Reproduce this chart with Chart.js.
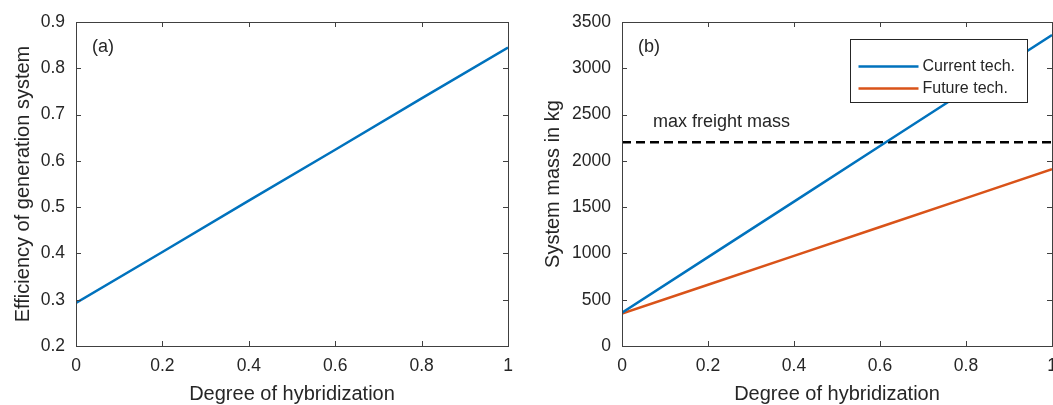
<!DOCTYPE html>
<html>
<head>
    <title>Hybridization</title>
    <script src="https://cdn.jsdelivr.net/npm/chart.js"></script>
    <style>
        html, body {
            margin: 0;
            padding: 0;
            background: #fff;
            overflow: hidden;
        }
        .panel {
            position: absolute;
            top: 0;
            height: 405px;
        }
        #left { left: 0; width: 526px; }
        #right { left: 526px; width: 545px; }
    </style>
</head>
<body>
    <div class="panel" id="left"><canvas id="effChart"></canvas></div>
    <div class="panel" id="right"><canvas id="massChart"></canvas></div>

    <script>
        // data
        const hybridization = [0, 0.2, 0.4, 0.6, 0.8, 1];
        const efficiency = [0.293, 0.403, 0.514, 0.624, 0.735, 0.845];
        const massCurrent = [360, 960, 1560, 2160, 2760, 3360];
        const massFuture = [350, 662, 974, 1286, 1598, 1910];
        const freightX = [0, 1];
        const freightMass = [2200, 2200];

        const xTicks = [0, 0.2, 0.4, 0.6, 0.8, 1];
        const effTicks = [0.2, 0.3, 0.4, 0.5, 0.6, 0.7, 0.8, 0.9];
        const massTicks = [0, 500, 1000, 1500, 2000, 2500, 3000, 3500];

        const seriesNames = ['Current tech.', 'Future tech.'];
        const FONT = 'Arial, "Liberation Sans", Helvetica, sans-serif';
        const TXT = '#262626';
        const BLUE = '#0072BD';
        const ORANGE = '#D95319';

        Chart.defaults.font.family = FONT;
        Chart.defaults.color = TXT;

        function toPoints(xs, ys) {
            return xs.map((x, i) => ({ x: x, y: ys[i] }));
        }

        function useTicks(list) {
            return scale => { scale.ticks = list.map(v => ({ value: v })); };
        }

        // MATLAB style box with inward ticks, drawn on top
        const boxPlugin = {
            id: 'box',
            afterDraw(chart) {
                const { ctx, chartArea: a, scales } = chart;
                const len = 5;
                ctx.save();
                ctx.strokeStyle = '#404040';
                ctx.lineWidth = 1;
                ctx.strokeRect(Math.round(a.left) + 0.5, Math.round(a.top) + 0.5,
                    Math.round(a.right - a.left), Math.round(a.bottom - a.top));
                ctx.beginPath();
                scales.x.ticks.forEach(t => {
                    const px = Math.round(scales.x.getPixelForValue(t.value)) + 0.5;
                    ctx.moveTo(px, a.bottom); ctx.lineTo(px, a.bottom - len);
                    ctx.moveTo(px, a.top); ctx.lineTo(px, a.top + len);
                });
                scales.y.ticks.forEach(t => {
                    const py = Math.round(scales.y.getPixelForValue(t.value)) + 0.5;
                    ctx.moveTo(a.left, py); ctx.lineTo(a.left + len, py);
                    ctx.moveTo(a.right, py); ctx.lineTo(a.right - len, py);
                });
                ctx.stroke();

                // panel labels and notes, placed in data units
                const notes = chart.options.plugins.box.notes || [];
                ctx.fillStyle = TXT;
                ctx.textBaseline = 'middle';
                ctx.textAlign = 'left';
                notes.forEach(n => {
                    ctx.font = n.size + 'px ' + FONT;
                    ctx.fillText(n.text, scales.x.getPixelForValue(n.x), scales.y.getPixelForValue(n.y));
                });

                // legend box
                const lg = chart.options.plugins.box.legend;
                if (lg) {
                    const w = 177, h = 63;
                    const bx = Math.round(a.right - 25 - w) + 0.5;
                    const by = Math.round(a.top + 17) + 0.5;
                    ctx.fillStyle = '#fff';
                    ctx.fillRect(bx, by, w, h);
                    ctx.strokeStyle = '#262626';
                    ctx.strokeRect(bx, by, w, h);
                    ctx.font = '16px ' + FONT;
                    lg.forEach((idx, row) => {
                        const ds = chart.data.datasets[idx];
                        const y = by + 27 + row * 22;
                        ctx.strokeStyle = ds.borderColor;
                        ctx.lineWidth = 2.5;
                        ctx.beginPath();
                        ctx.moveTo(bx + 8, y); ctx.lineTo(bx + 68, y);
                        ctx.stroke();
                        ctx.fillStyle = TXT;
                        ctx.fillText(ds.label, bx + 72, y);
                    });
                }
                ctx.restore();
            }
        };

        function axes(yMin, yMax, yList, yTitle, yWidth, yTitlePad) {
            const tickFont = { size: 17.5 };
            return {
                x: {
                    type: 'linear',
                    min: 0,
                    max: 1,
                    afterBuildTicks: useTicks(xTicks),
                    afterFit: s => { s.height = 59; },
                    grid: { display: false, drawTicks: false },
                    border: { display: false },
                    ticks: { font: tickFont, color: TXT, padding: 10, maxRotation: 0, autoSkip: false,
                        callback: v => String(v) },
                    title: { display: true, text: 'Degree of hybridization', color: TXT,
                        font: { size: 20, lineHeight: 1 }, padding: { top: 0, bottom: 1 } }
                },
                y: {
                    type: 'linear',
                    min: yMin,
                    max: yMax,
                    afterBuildTicks: useTicks(yList),
                    afterFit: s => { s.width = yWidth; },
                    grid: { display: false, drawTicks: false },
                    border: { display: false },
                    ticks: { font: tickFont, color: TXT, padding: 11, autoSkip: false,
                        callback: v => String(v) },
                    title: { display: true, text: yTitle, color: TXT,
                        font: { size: 20, lineHeight: 1 }, padding: { top: yTitlePad, bottom: 0 } }
                }
            };
        }

        const effChart = new Chart(document.getElementById('effChart'), {
            type: 'scatter',
            data: {
                datasets: [{
                    label: 'Efficiency',
                    data: toPoints(hybridization, efficiency),
                    showLine: true,
                    borderColor: BLUE,
                    borderWidth: 2.5,
                    pointRadius: 0
                }]
            },
            options: {
                responsive: true,
                maintainAspectRatio: false,
                animation: false,
                layout: { padding: { left: 0, top: 22, right: 18, bottom: 0 } },
                scales: axes(0.2, 0.9, effTicks, 'Efficiency of generation system', 76, 13),
                plugins: {
                    legend: { display: false },
                    tooltip: { enabled: false },
                    box: { notes: [{ text: '(a)', x: 0.037, y: 0.846, size: 18 }] }
                }
            },
            plugins: [boxPlugin]
        });

        const massChart = new Chart(document.getElementById('massChart'), {
            type: 'scatter',
            data: {
                datasets: [{
                    label: seriesNames[0],
                    data: toPoints(hybridization, massCurrent),
                    showLine: true,
                    borderColor: BLUE,
                    borderWidth: 2.5,
                    pointRadius: 0
                }, {
                    label: seriesNames[1],
                    data: toPoints(hybridization, massFuture),
                    showLine: true,
                    borderColor: ORANGE,
                    borderWidth: 2.5,
                    pointRadius: 0
                }, {
                    label: 'max freight mass',
                    data: toPoints(freightX, freightMass),
                    showLine: true,
                    borderColor: '#000',
                    borderWidth: 2.5,
                    borderDash: [9, 5],
                    pointRadius: 0
                }]
            },
            options: {
                responsive: true,
                maintainAspectRatio: false,
                animation: false,
                layout: { padding: { left: 0, top: 22, right: 19, bottom: 0 } },
                scales: axes(0, 3500, massTicks, 'System mass in kg', 96, 17),
                plugins: {
                    legend: { display: false },
                    tooltip: { enabled: false },
                    box: {
                        notes: [
                            { text: '(b)', x: 0.037, y: 3230, size: 18 },
                            { text: 'max freight mass', x: 0.072, y: 2423, size: 18 }
                        ],
                        legend: [0, 1]
                    }
                }
            },
            plugins: [boxPlugin]
        });
    </script>
</body>
</html>
